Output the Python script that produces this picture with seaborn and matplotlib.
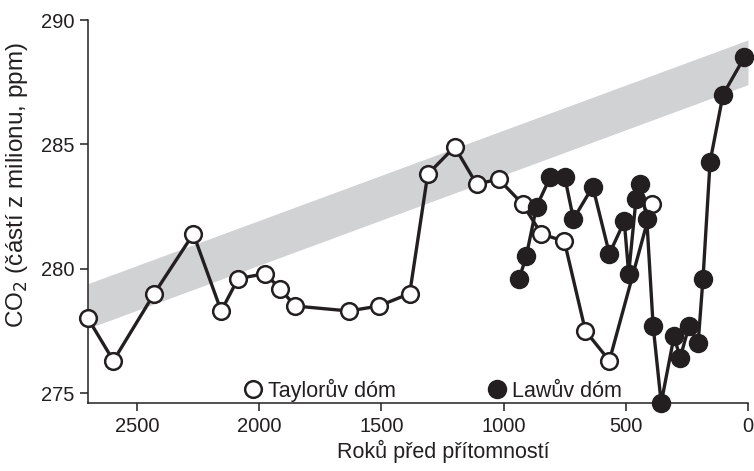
import matplotlib
matplotlib.use("Agg")
import matplotlib.pyplot as plt
import seaborn as sns
import pandas as pd
from matplotlib.lines import Line2D

# Taylor Dome (open circles)
taylor_years = [2700, 2596, 2429, 2269, 2155, 2086, 1976, 1914, 1853, 1633, 1510,
                1384, 1310, 1200, 1110, 1020, 922, 845, 751, 665, 567, 392]
taylor_co2 = [278.0, 276.3, 279.0, 281.4, 278.3, 279.6, 279.8, 279.2, 278.5, 278.3, 278.5,
              279.0, 283.8, 284.9, 283.4, 283.6, 282.6, 281.4, 281.1, 277.5, 276.3, 282.6]

# Law Dome (filled circles)
law_years = [936, 907, 865, 808, 750, 714, 635, 567, 506, 488, 458, 441, 414,
             388, 355, 302, 278, 241, 204, 184, 155, 102, 15]
law_co2 = [279.6, 280.5, 282.5, 283.7, 283.7, 282.0, 283.3, 280.6, 281.9, 279.8, 282.8, 283.4, 282.0,
           277.7, 274.6, 277.3, 276.4, 277.7, 277.0, 279.6, 284.3, 287.0, 288.5]

# grey trend band
band_years = [2700, 0]
band_lo = [277.6, 287.4]
band_hi = [279.4, 289.2]

sns.set_style("ticks")
plt.rcParams['font.family'] = ['Liberation Sans', 'DejaVu Sans']
ink = '#231f20'

fig, ax = plt.subplots(figsize=(7.54, 4.71), dpi=100)
fig.subplots_adjust(left=0.1167, right=0.992, top=0.9575, bottom=0.1444)

ax.fill_between(band_years, band_lo, band_hi, color='#d1d2d4', lw=0, zorder=1)

df_t = pd.DataFrame({'rok': taylor_years, 'co2': taylor_co2})
df_l = pd.DataFrame({'rok': law_years, 'co2': law_co2})

sns.lineplot(data=df_t, x='rok', y='co2', ax=ax, color=ink, lw=2.4, estimator=None,
             marker='o', markersize=12, markerfacecolor='white', markeredgecolor=ink,
             markeredgewidth=1.8, zorder=3, clip_on=False)
sns.lineplot(data=df_l, x='rok', y='co2', ax=ax, color=ink, lw=2.4, estimator=None,
             marker='o', markersize=13, markerfacecolor=ink, markeredgecolor=ink,
             markeredgewidth=1, zorder=4, clip_on=False)

ax.set_xlim(2700, 0)
ax.set_ylim(274.6, 290)
ax.set_xticks([2500, 2000, 1500, 1000, 500, 0])
ax.set_yticks([275, 280, 285, 290])
ax.tick_params(axis='both', direction='out', length=6, width=1.1, colors=ink,
               labelsize=14.5, labelcolor=ink, pad=4)
for s in ['top', 'right']:
    ax.spines[s].set_visible(False)
for s in ['left', 'bottom']:
    ax.spines[s].set_linewidth(1.1)
    ax.spines[s].set_color(ink)

ax.set_xlabel('Roků před přítomností', fontsize=15.5, color=ink)
ax.xaxis.set_label_coords(0.538, -0.097)
ax.set_ylabel('CO$_2$ (částí z milionu, ppm)', fontsize=17.5, color=ink)
ax.yaxis.set_label_coords(-0.088, 0.57)

handles = [
    Line2D([], [], ls='none', marker='o', markersize=12, markerfacecolor='white',
           markeredgecolor=ink, markeredgewidth=1.8, label='Taylorův dóm'),
    Line2D([], [], ls='none', marker='o', markersize=13, markerfacecolor=ink,
           markeredgecolor=ink, label='Lawův dóm'),
]
leg = ax.legend(handles=handles, loc='center', bbox_to_anchor=(0.523, 0.034), ncol=2,
                frameon=False, fontsize=15.5, handlelength=0.8, handletextpad=0.3,
                columnspacing=4.3, borderpad=0)
for t in leg.get_texts():
    t.set_color(ink)

plt.savefig('out.png', dpi=100)
